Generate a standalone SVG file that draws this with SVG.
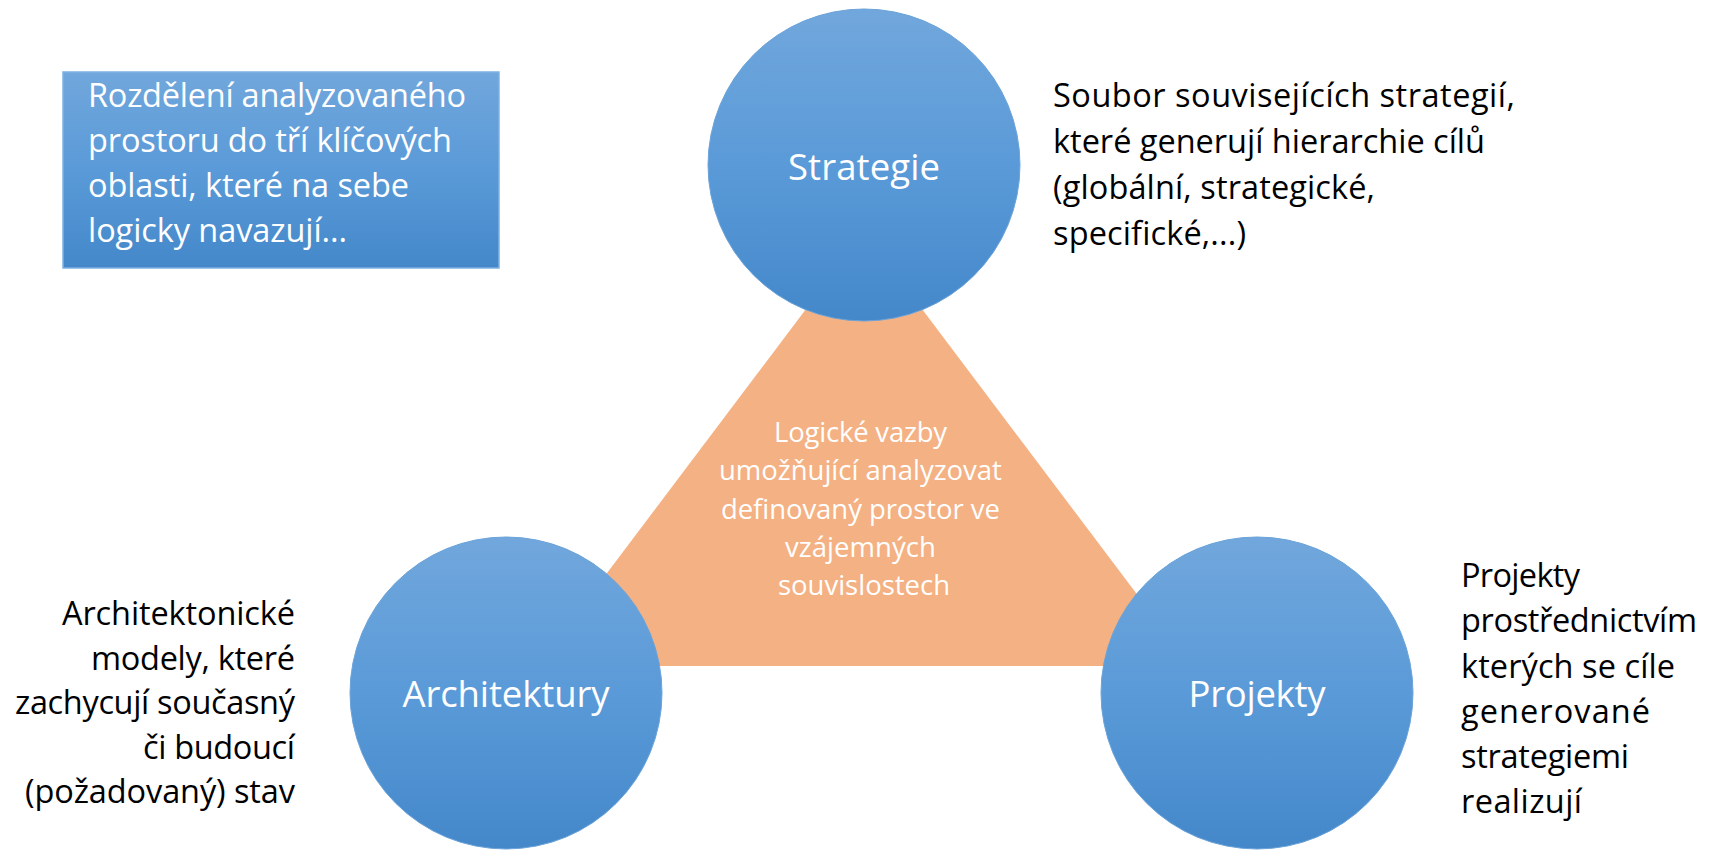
<svg xmlns="http://www.w3.org/2000/svg" width="1710" height="850" viewBox="0 0 1710 850">
  <defs>
    <linearGradient id="blueGrad" x1="0" y1="0" x2="0" y2="1">
      <stop offset="0" stop-color="#71A7DC"/>
      <stop offset="0.5" stop-color="#5A9AD8"/>
      <stop offset="1" stop-color="#4488CA"/>
    </linearGradient>
  </defs>
  <style>
    text { font-variant-ligatures: none; }
    .bubble { fill: url(#blueGrad); stroke: #6BA3D9; stroke-width: 1; }
    .box { fill: url(#blueGrad); stroke: #7FB1E2; stroke-width: 1.5; }
    .tri { fill: #F4B183; }
    .wt { font-family: "Open Sans", Lato, "Liberation Sans", sans-serif; fill: #FFFFFF; }
    .bt { font-family: "Open Sans", Lato, "Liberation Sans", sans-serif; fill: #000000; font-size: 32.5px; }
    .lbl { font-size: 36.5px; text-anchor: middle; }
    .boxt { font-size: 32.5px; }
    .trit { font-size: 27.5px; text-anchor: middle; }
  </style>

  <rect width="1710" height="850" fill="#FFFFFF"/>

  <g id="intro-box">
    <rect class="box" x="63" y="72" width="436" height="196"/>
    <text class="wt boxt">
      <tspan x="88" y="107" textLength="378">Rozdělení analyzovaného</tspan>
      <tspan x="88" y="152" textLength="364">prostoru do tří klíčových</tspan>
      <tspan x="88" y="197" textLength="321">oblasti, které na sebe</tspan>
      <tspan x="88" y="242" textLength="259">logicky navazují...</tspan>
    </text>
  </g>

  <g id="logic-triangle">
    <polygon class="tri" points="864,232 537,666 1191,666"/>
    <text class="wt trit">
      <tspan x="864" y="442" textLength="173">Logické vazby</tspan>
      <tspan x="864" y="480" textLength="283">umožňující analyzovat</tspan>
      <tspan x="864" y="518.5" textLength="279">definovaný prostor ve</tspan>
      <tspan x="864" y="557" textLength="151">vzájemných</tspan>
      <tspan x="864" y="595" textLength="172">souvislostech</tspan>
    </text>
  </g>

  <g id="connectors"></g>

  <g id="node-strategie">
    <circle class="bubble" cx="864" cy="165" r="156"/>
    <text class="wt lbl" x="864" y="180" textLength="152">Strategie</text>
  </g>

  <g id="node-architektury">
    <circle class="bubble" cx="506" cy="693" r="156"/>
    <text class="wt lbl" x="506" y="707" textLength="207">Architektury</text>
  </g>

  <g id="node-projekty">
    <circle class="bubble" cx="1257" cy="693" r="156"/>
    <text class="wt lbl" x="1257" y="707" textLength="137">Projekty</text>
  </g>

  <g id="desc-strategie">
    <text class="bt">
      <tspan x="1053" y="107" textLength="462">Soubor souvisejících strategií,</tspan>
      <tspan x="1053" y="153" textLength="432">které generují hierarchie cílů</tspan>
      <tspan x="1053" y="199" textLength="322">(globální, strategické,</tspan>
      <tspan x="1053" y="245" textLength="193">specifické,...)</tspan>
    </text>
  </g>

  <g id="desc-architektury">
    <text class="bt">
      <tspan x="62" y="625" textLength="233">Architektonické</tspan>
      <tspan x="91" y="669.5" textLength="204">modely, které</tspan>
      <tspan x="15" y="714" textLength="280">zachycují současný</tspan>
      <tspan x="143" y="758.5" textLength="152">či budoucí</tspan>
      <tspan x="25" y="803" textLength="270">(požadovaný) stav</tspan>
    </text>
  </g>

  <g id="desc-projekty">
    <text class="bt">
      <tspan x="1461" y="587" textLength="119">Projekty</tspan>
      <tspan x="1461" y="632" textLength="236">prostřednictvím</tspan>
      <tspan x="1461" y="677.5" textLength="214">kterých se cíle</tspan>
      <tspan x="1461" y="722.5" textLength="189">generované</tspan>
      <tspan x="1461" y="767.5" textLength="168">strategiemi</tspan>
      <tspan x="1461" y="812.5" textLength="121">realizují</tspan>
    </text>
  </g>
</svg>
